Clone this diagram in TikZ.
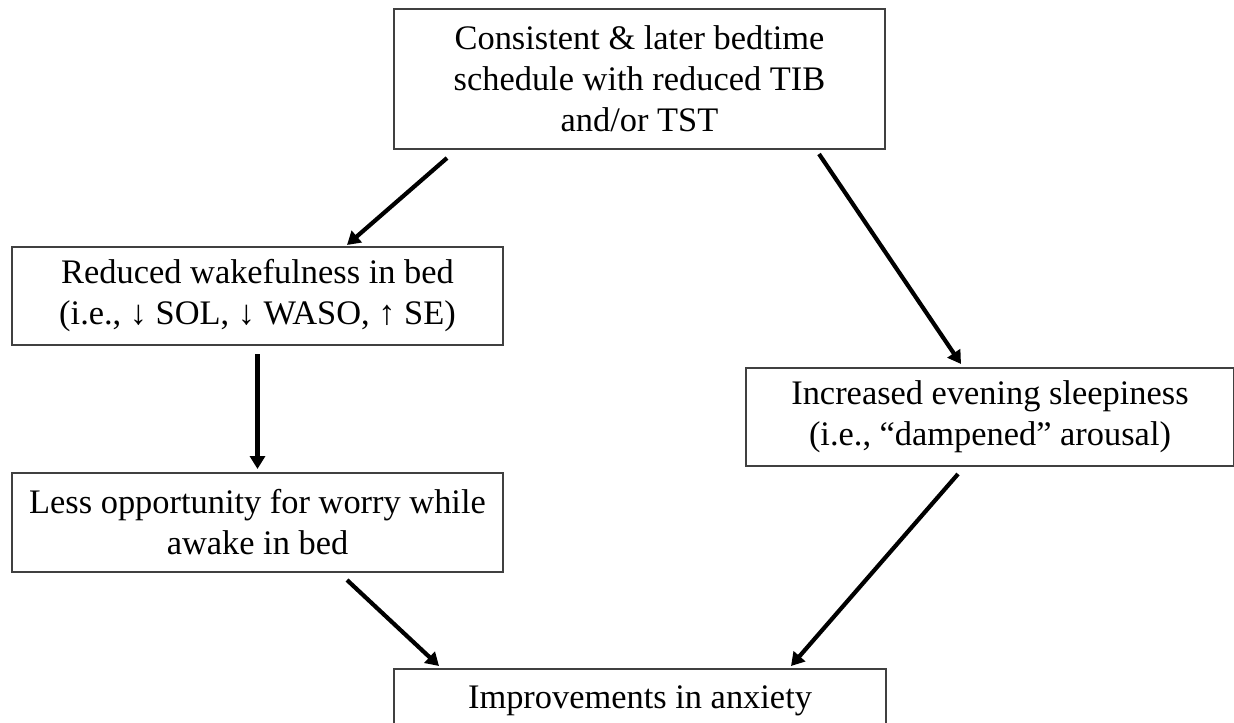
\documentclass[tikz,border=0pt]{standalone}
\usepackage{fontspec}
\setmainfont{Liberation Serif}
\usetikzlibrary{arrows.meta,calc}
\begin{document}
\begin{tikzpicture}[x=0.5pt,y=-0.5pt,
  box/.style={draw=black!75, line width=1pt, align=center, inner sep=0pt,
    font=\fontsize{17.2}{20.5}\selectfont, text=black},
  arr/.style={line width=2.1pt, -{Triangle[length=6.5pt,width=7.5pt]}}]
\useasboundingbox (0,0) rectangle (1234,722);
\node[box, minimum width=245.5pt, minimum height=70pt] (top) at (639.5,79)
  {Consistent \& later bedtime\\schedule with reduced TIB\\and/or TST};
\node[box, minimum width=245.5pt, minimum height=49pt] (red) at (257.5,296)
  {Reduced wakefulness in bed\\(i.e., ↓ SOL, ↓ WASO, ↑ SE)};
\node[box, minimum width=245.5pt, minimum height=49.5pt] (less) at (257.5,522.5)
  {Less opportunity for worry while\\awake in bed};
\node[box, minimum width=244pt, minimum height=49pt] (inc) at (990,417)
  {Increased evening sleepiness\\(i.e., “dampened” arousal)};
\node[box, minimum width=246pt, minimum height=32pt] (imp) at (640,701)
  {Improvements in anxiety};
\draw[arr] ($(top.south west)+(54,8)$) -- ($(red.north west)+(336,-1)$);
\draw[arr] ($(top.south west)+(426,4)$) -- ($(inc.north west)+(216,-3)$);
\draw[arr] ($(red.south)+(0,8)$) -- ($(less.north)+(0,-3)$);
\draw[arr] ($(less.south west)+(336,7)$) -- ($(imp.north west)+(46,-2)$);
\draw[arr] ($(inc.south west)+(213,7)$) -- ($(imp.north west)+(398,-2)$);
\end{tikzpicture}
\end{document}
